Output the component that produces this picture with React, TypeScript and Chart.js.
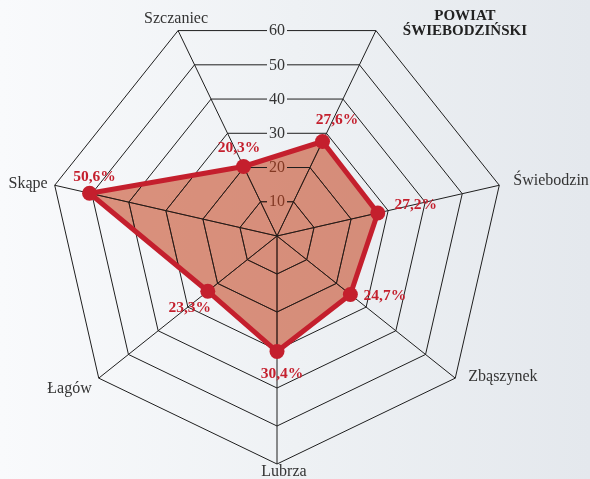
import { useEffect, useRef } from "react";
import { Chart, registerables } from "chart.js";

Chart.register(...registerables);

// ---- data ----
const categories = ["POWIAT ŚWIEBODZIŃSKI", "Świebodzin", "Zbąszynek", "Lubrza", "Łagów", "Skąpe", "Szczaniec"];
const categoryLines = [["POWIAT", "ŚWIEBODZIŃSKI"], ["Świebodzin"], ["Zbąszynek"], ["Lubrza"], ["Łagów"], ["Skąpe"], ["Szczaniec"]];
const values = [27.6, 27.2, 24.7, 30.4, 23.3, 50.6, 20.3];
const tickValues = [10, 20, 30, 40, 50, 60];
const valueLabels = values.map((v) => v.toFixed(1).replace(".", ",") + "%");

// ---- text placement (relative to the scale's own positions) ----
const pointLabelPlacement = [
  { dx: 89, dy: -14, align: "center", bold: true },
  { dx: 14, dy: -4, align: "left", bold: false },
  { dx: 13, dy: -1, align: "left", bold: false },
  { dx: 7, dy: 8, align: "center", bold: false },
  { dx: -7, dy: 11, align: "right", bold: false },
  { dx: -7, dy: -1, align: "right", bold: false },
  { dx: -2, dy: -12, align: "center", bold: false },
];
const valueLabelOffset = [
  { dx: 14.5, dy: -21.5 },
  { dx: 38, dy: -8 },
  { dx: 34.5, dy: 1 },
  { dx: 5, dy: 22.5 },
  { dx: -18, dy: 17 },
  { dx: 5, dy: -16.5 },
  { dx: -4.5, dy: -18.5 },
];

const SERIF = '"Liberation Serif", "DejaVu Serif", serif';
const RED = "#c41f2d";
const FILL = "rgba(194,61,22,0.55)";
const BACKDROP = "#eef1f4";

const radarPlugin = {
  id: "radarDecor",
  beforeDatasetsDraw(chart: any) {
    const ctx = chart.ctx;
    const scale = chart.scales.r;
    const n = categories.length;
    const rects: any[] = [];
    ctx.save();
    ctx.font = "16px " + SERIF;
    ctx.textAlign = "center";
    ctx.textBaseline = "middle";
    tickValues.forEach((v) => {
      const d = scale.getDistanceFromCenterForValue(v);
      const y = scale.yCenter - d * Math.cos(Math.PI / n);
      const x = scale.xCenter;
      const text = String(v);
      const w = ctx.measureText(text).width + 4;
      const h = 12;
      const r = { x: x - w / 2, y: y - h / 2, w, h };
      rects.push(r);
      ctx.fillStyle = BACKDROP;
      ctx.fillRect(r.x, r.y, r.w, r.h);
      ctx.fillStyle = "#333333";
      ctx.fillText(text, x, y + 0.5);
    });
    ctx.restore();
    chart.$tickRects = rects;
  },
  afterDatasetDraw(chart: any, args: any) {
    if (args.index !== 1) return;
    const ctx = chart.ctx;
    const scale = chart.scales.r;
    const pts = chart.getDatasetMeta(1).data;
    ctx.save();
    ctx.beginPath();
    pts.forEach((p: any, i: number) => (i ? ctx.lineTo(p.x, p.y) : ctx.moveTo(p.x, p.y)));
    ctx.closePath();
    ctx.clip();
    ctx.beginPath();
    ctx.rect(0, 0, chart.width, chart.height);
    (chart.$tickRects || []).forEach((r: any) => ctx.rect(r.x, r.y, r.w, r.h));
    ctx.clip("evenodd");
    scale.drawGrid();
    ctx.restore();
  },
  afterDatasetsDraw(chart: any) {
    const ctx = chart.ctx;
    const scale = chart.scales.r;
    const pts = chart.getDatasetMeta(0).data;
    ctx.save();
    // value labels
    ctx.font = "bold 15.5px " + SERIF;
    ctx.fillStyle = RED;
    ctx.textAlign = "center";
    ctx.textBaseline = "middle";
    pts.forEach((p: any, i: number) => {
      const o = valueLabelOffset[i];
      ctx.fillText(valueLabels[i], p.x + o.dx, p.y + o.dy);
    });
    // category labels
    categoryLines.forEach((lines, i) => {
      const pos = scale.getPointPosition(i, scale.drawingArea);
      const pl = pointLabelPlacement[i];
      ctx.font = (pl.bold ? "bold 15px " : "16px ") + SERIF;
      ctx.fillStyle = pl.bold ? "#222222" : "#333333";
      ctx.textAlign = pl.align;
      ctx.textBaseline = "middle";
      lines.forEach((line, k) => {
        ctx.fillText(line, pos.x + pl.dx, pos.y + pl.dy + k * 15);
      });
    });
    ctx.restore();
  },
};

export default function App() {
  const ref = useRef<HTMLCanvasElement | null>(null);

  useEffect(() => {
    if (!ref.current) return;
    const chart = new Chart(ref.current, {
      type: "radar",
      data: {
        labels: categories,
        datasets: [
          {
            data: values,
            fill: false,
            borderColor: RED,
            borderWidth: 5,
            pointRadius: 7.5,
            pointBackgroundColor: RED,
            pointBorderColor: RED,
            pointBorderWidth: 0,
          },
          {
            data: values,
            fill: true,
            backgroundColor: FILL,
            borderColor: "transparent",
            borderWidth: 0,
            pointRadius: 0,
          },
        ],
      },
      options: {
        responsive: false,
        animation: false,
        layout: { padding: { left: 49, right: 85, top: 8, bottom: 15 } },
        plugins: { legend: { display: false }, tooltip: { enabled: false } },
        elements: { line: { tension: 0 } },
        scales: {
          r: {
            min: 0,
            max: 60,
            startAngle: 180 / 7,
            ticks: { display: false, stepSize: 10 },
            pointLabels: { display: false },
            grid: { color: "#1e1e1e", lineWidth: 1 },
            angleLines: { color: "#1e1e1e", lineWidth: 1 },
          },
        },
      } as any,
      plugins: [radarPlugin as any],
    });
    return () => chart.destroy();
  }, []);

  return (
    <div
      style={{
        position: "absolute",
        left: 0,
        top: 0,
        width: 590,
        height: 479,
        overflow: "hidden",
        background: "linear-gradient(to right, #f9fafc 0%, #eef1f4 50%, #e4e8ed 100%)",
      }}
    >
      <canvas ref={ref} width={590} height={479} style={{ display: "block" }} />
    </div>
  );
}
